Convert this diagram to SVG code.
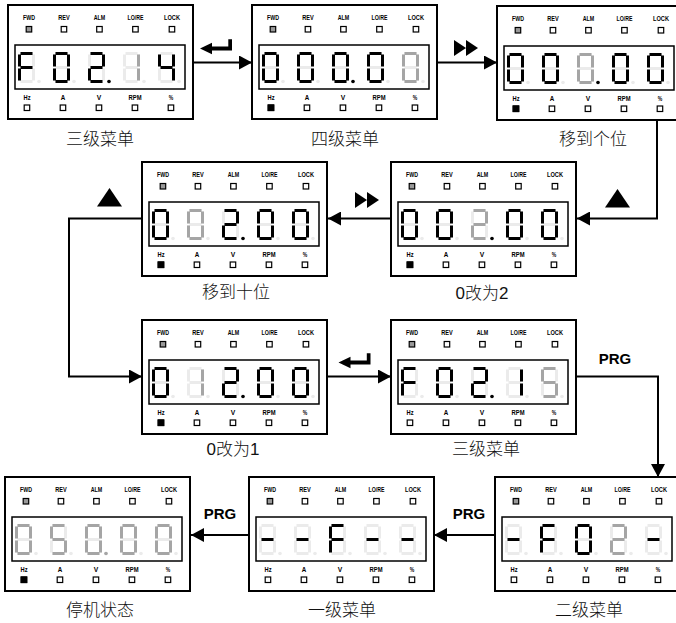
<svg xmlns="http://www.w3.org/2000/svg" xmlns:xlink="http://www.w3.org/1999/xlink" width="676" height="623" viewBox="0 0 676 623">
<style>
.lb{font-family:"Liberation Sans",Arial,sans-serif;font-weight:bold;font-size:8px;text-anchor:middle;fill:#000}
.cap{font-family:"Liberation Sans","Noto Sans CJK SC",sans-serif;font-size:17px;font-weight:300;text-anchor:middle;fill:#111}
.prg{font-family:"Liberation Sans",Arial,sans-serif;font-weight:bold;font-size:15px;text-anchor:middle;fill:#000}
.led{fill:#fff;stroke:#000;stroke-width:1.2}
.fwd{fill:#999;stroke:#000;stroke-width:1.2}
.hz{fill:#000;stroke:#000;stroke-width:1.2}
.on{fill:#000}
.bl{fill:#a5a5a5}
.off{fill:#ebebeb}
.wire{fill:none;stroke:#000;stroke-width:2;marker-end:url(#ah)}
</style>
<defs>
<marker id="ah" markerWidth="13" markerHeight="14" refX="13" refY="7" orient="auto" markerUnits="userSpaceOnUse"><path d="M0,0 L13,7 L0,14 Z" fill="#000"/></marker>
<rect id="sa" x="2.5" y="0" width="12" height="3"/>
<rect id="sb" x="14" y="2.5" width="3" height="12"/>
<rect id="sc" x="14" y="16.5" width="3" height="12"/>
<rect id="sd" x="2.5" y="28" width="12" height="3"/>
<rect id="se" x="0" y="16.5" width="3" height="12"/>
<rect id="sf" x="0" y="2.5" width="3" height="12"/>
<rect id="sg" x="2.5" y="14" width="12" height="3"/>
<circle id="gdp" cx="21" cy="29.5" r="1.8"/>
<g id="g8"><use href="#sa"/><use href="#sb"/><use href="#sc"/><use href="#sd"/><use href="#se"/><use href="#sf"/><use href="#sg"/><use href="#gdp"/></g>
<g id="g0"><use href="#sa"/><use href="#sb"/><use href="#sc"/><use href="#sd"/><use href="#se"/><use href="#sf"/></g>
<g id="g1"><use href="#sb"/><use href="#sc"/></g>
<g id="g2"><use href="#sa"/><use href="#sb"/><use href="#sg"/><use href="#se"/><use href="#sd"/></g>
<g id="g4"><use href="#sf"/><use href="#sg"/><use href="#sb"/><use href="#sc"/></g>
<g id="g5"><use href="#sa"/><use href="#sf"/><use href="#sg"/><use href="#sc"/><use href="#sd"/></g>
<g id="gF"><use href="#sa"/><use href="#sf"/><use href="#sg"/><use href="#se"/></g>
<g id="gm"><use href="#sg"/></g>
<g id="frame">
<rect x="0" y="0" width="185" height="114" fill="#fff" stroke="#000" stroke-width="2"/>
<rect x="7" y="40" width="170" height="44" fill="none" stroke="#000" stroke-width="1.5"/>
<text class="lb" x="21" y="15" textLength="12" lengthAdjust="spacingAndGlyphs">FWD</text>
<text class="lb" x="56" y="15" textLength="11.5" lengthAdjust="spacingAndGlyphs">REV</text>
<text class="lb" x="91.5" y="15" textLength="11.5" lengthAdjust="spacingAndGlyphs">ALM</text>
<text class="lb" x="127.5" y="15" textLength="16" lengthAdjust="spacingAndGlyphs">LO/RE</text>
<text class="lb" x="164" y="15" textLength="16" lengthAdjust="spacingAndGlyphs">LOCK</text>
<rect class="fwd" x="18.2" y="21.5" width="5.5" height="5.5"/>
<rect class="led" x="53.2" y="21.5" width="5.5" height="5.5"/>
<rect class="led" x="88.7" y="21.5" width="5.5" height="5.5"/>
<rect class="led" x="124.7" y="21.5" width="5.5" height="5.5"/>
<rect class="led" x="161.2" y="21.5" width="5.5" height="5.5"/>
<text class="lb" x="19" y="95" textLength="7" lengthAdjust="spacingAndGlyphs">Hz</text>
<text class="lb" x="55" y="95" textLength="4.5" lengthAdjust="spacingAndGlyphs">A</text>
<text class="lb" x="91" y="95" textLength="4.5" lengthAdjust="spacingAndGlyphs">V</text>
<text class="lb" x="127" y="95" textLength="13" lengthAdjust="spacingAndGlyphs">RPM</text>
<text class="lb" x="163" y="95" textLength="4.5" lengthAdjust="spacingAndGlyphs">%</text>
<rect class="led" x="16.2" y="100" width="5.5" height="5.5"/>
<rect class="led" x="52.2" y="100" width="5.5" height="5.5"/>
<rect class="led" x="88.2" y="100" width="5.5" height="5.5"/>
<rect class="led" x="124.2" y="100" width="5.5" height="5.5"/>
<rect class="led" x="160.2" y="100" width="5.5" height="5.5"/>
<use href="#g8" class="off" x="10" y="47"/>
<use href="#g8" class="off" x="45" y="47"/>
<use href="#g8" class="off" x="80" y="47"/>
<use href="#g8" class="off" x="115" y="47"/>
<use href="#g8" class="off" x="150" y="47"/>
</g>
<rect id="hzon" class="hz" x="16.2" y="100" width="5.5" height="5.5"/>
<path id="enter" d="M0,9.5 L12,3.8 L12,7.6 L28.3,7.6 L28.3,0.3 L32,0.3 L32,11.6 L12,11.6 L12,15.2 Z"/>
<path id="ff" d="M0,0 L12,8 L0,16 Z M12,0 L24,8 L12,16 Z"/>
<path id="up" d="M0,18.5 L12.5,0 L25,18.5 Z"/>
</defs>
<rect width="676" height="623" fill="#fff"/>

<g id="connectors">
<path class="wire" d="M193,62.5 H252"/>
<path class="wire" d="M437,62.5 H497"/>
<path class="wire" d="M657,119 V218.5 H577"/>
<path class="wire" d="M391,218.5 H328"/>
<path class="wire" d="M142,218.5 H69 V376.5 H142"/>
<path class="wire" d="M327,376.5 H391"/>
<path class="wire" d="M576,376.5 H658 V477"/>
<path class="wire" d="M495,535 H434"/>
<path class="wire" d="M249,535 H191"/>
<use href="#enter" x="200" y="39"/>
<use href="#enter" x="338.5" y="353"/>
<use href="#ff" x="454" y="40"/>
<use href="#ff" x="355" y="192"/>
<use href="#up" x="97" y="188"/>
<use href="#up" x="605" y="189"/>
<text class="prg" x="615" y="364">PRG</text>
<text class="prg" x="220" y="519">PRG</text>
<text class="prg" x="469" y="519">PRG</text>
</g>

<g id="p1" transform="translate(8,5)">
<use href="#frame"/>
<use href="#gF" class="on" x="10" y="47"/><use href="#g0" class="on" x="45" y="47"/><use href="#g2" class="on" x="80" y="47"/><use href="#gdp" class="on" x="80" y="47"/><use href="#g1" class="bl" x="115" y="47"/><use href="#g4" class="on" x="150" y="47"/>
</g>
<g id="p2" transform="translate(252,5)">
<use href="#frame"/><use href="#hzon"/>
<use href="#g0" class="on" x="10" y="47"/><use href="#g0" class="on" x="45" y="47"/><use href="#g0" class="on" x="80" y="47"/><use href="#gdp" class="on" x="80" y="47"/><use href="#g0" class="on" x="115" y="47"/><use href="#g0" class="bl" x="150" y="47"/>
</g>
<g id="p3" transform="translate(497,6)">
<use href="#frame"/><use href="#hzon"/>
<use href="#g0" class="on" x="10" y="47"/><use href="#g0" class="on" x="45" y="47"/><use href="#g0" class="bl" x="80" y="47"/><use href="#gdp" class="on" x="80" y="47"/><use href="#g0" class="on" x="115" y="47"/><use href="#g0" class="on" x="150" y="47"/>
</g>
<g id="p4" transform="translate(142,162)">
<use href="#frame"/><use href="#hzon"/>
<use href="#g0" class="on" x="10" y="47"/><use href="#g0" class="bl" x="45" y="47"/><use href="#g2" class="on" x="80" y="47"/><use href="#gdp" class="on" x="80" y="47"/><use href="#g0" class="on" x="115" y="47"/><use href="#g0" class="on" x="150" y="47"/>
</g>
<g id="p5" transform="translate(391,162)">
<use href="#frame"/><use href="#hzon"/>
<use href="#g0" class="on" x="10" y="47"/><use href="#g0" class="on" x="45" y="47"/><use href="#g2" class="bl" x="80" y="47"/><use href="#gdp" class="on" x="80" y="47"/><use href="#g0" class="on" x="115" y="47"/><use href="#g0" class="on" x="150" y="47"/>
</g>
<g id="p6" transform="translate(142,320)">
<use href="#frame"/><use href="#hzon"/>
<use href="#g0" class="on" x="10" y="47"/><use href="#g1" class="bl" x="45" y="47"/><use href="#g2" class="on" x="80" y="47"/><use href="#gdp" class="on" x="80" y="47"/><use href="#g0" class="on" x="115" y="47"/><use href="#g0" class="on" x="150" y="47"/>
</g>
<g id="p7" transform="translate(391,320)">
<use href="#frame"/>
<use href="#gF" class="on" x="10" y="47"/><use href="#g0" class="on" x="45" y="47"/><use href="#g2" class="on" x="80" y="47"/><use href="#gdp" class="on" x="80" y="47"/><use href="#g1" class="on" x="115" y="47"/><use href="#g5" class="bl" x="150" y="47"/>
</g>
<g id="p8" transform="translate(5,477)">
<use href="#frame"/><use href="#hzon"/>
<use href="#g0" class="bl" x="10" y="47"/><use href="#g5" class="bl" x="45" y="47"/><use href="#g0" class="bl" x="80" y="47"/><use href="#gdp" class="bl" x="80" y="47"/><use href="#g0" class="bl" x="115" y="47"/><use href="#g0" class="bl" x="150" y="47"/>
</g>
<g id="p9" transform="translate(249,477)">
<use href="#frame"/>
<use href="#gm" class="on" x="10" y="47"/><use href="#gm" class="on" x="45" y="47"/><use href="#gF" class="on" x="80" y="47"/><use href="#gm" class="on" x="115" y="47"/><use href="#gm" class="on" x="150" y="47"/>
</g>
<g id="p10" transform="translate(495,477)">
<use href="#frame"/>
<use href="#gm" class="on" x="10" y="47"/><use href="#gF" class="on" x="45" y="47"/><use href="#g0" class="on" x="80" y="47"/><use href="#g2" class="bl" x="115" y="47"/><use href="#gm" class="on" x="150" y="47"/>
</g>

<g id="captions">
<text class="cap" x="100" y="145">三级菜单</text>
<text class="cap" x="345" y="145">四级菜单</text>
<text class="cap" x="593" y="145">移到个位</text>
<text class="cap" x="236" y="298">移到十位</text>
<text class="cap" x="482" y="299">0改为2</text>
<text class="cap" x="233" y="455">0改为1</text>
<text class="cap" x="486" y="455">三级菜单</text>
<text class="cap" x="100" y="616">停机状态</text>
<text class="cap" x="342" y="616">一级菜单</text>
<text class="cap" x="589" y="616">二级菜单</text>
</g>
</svg>
